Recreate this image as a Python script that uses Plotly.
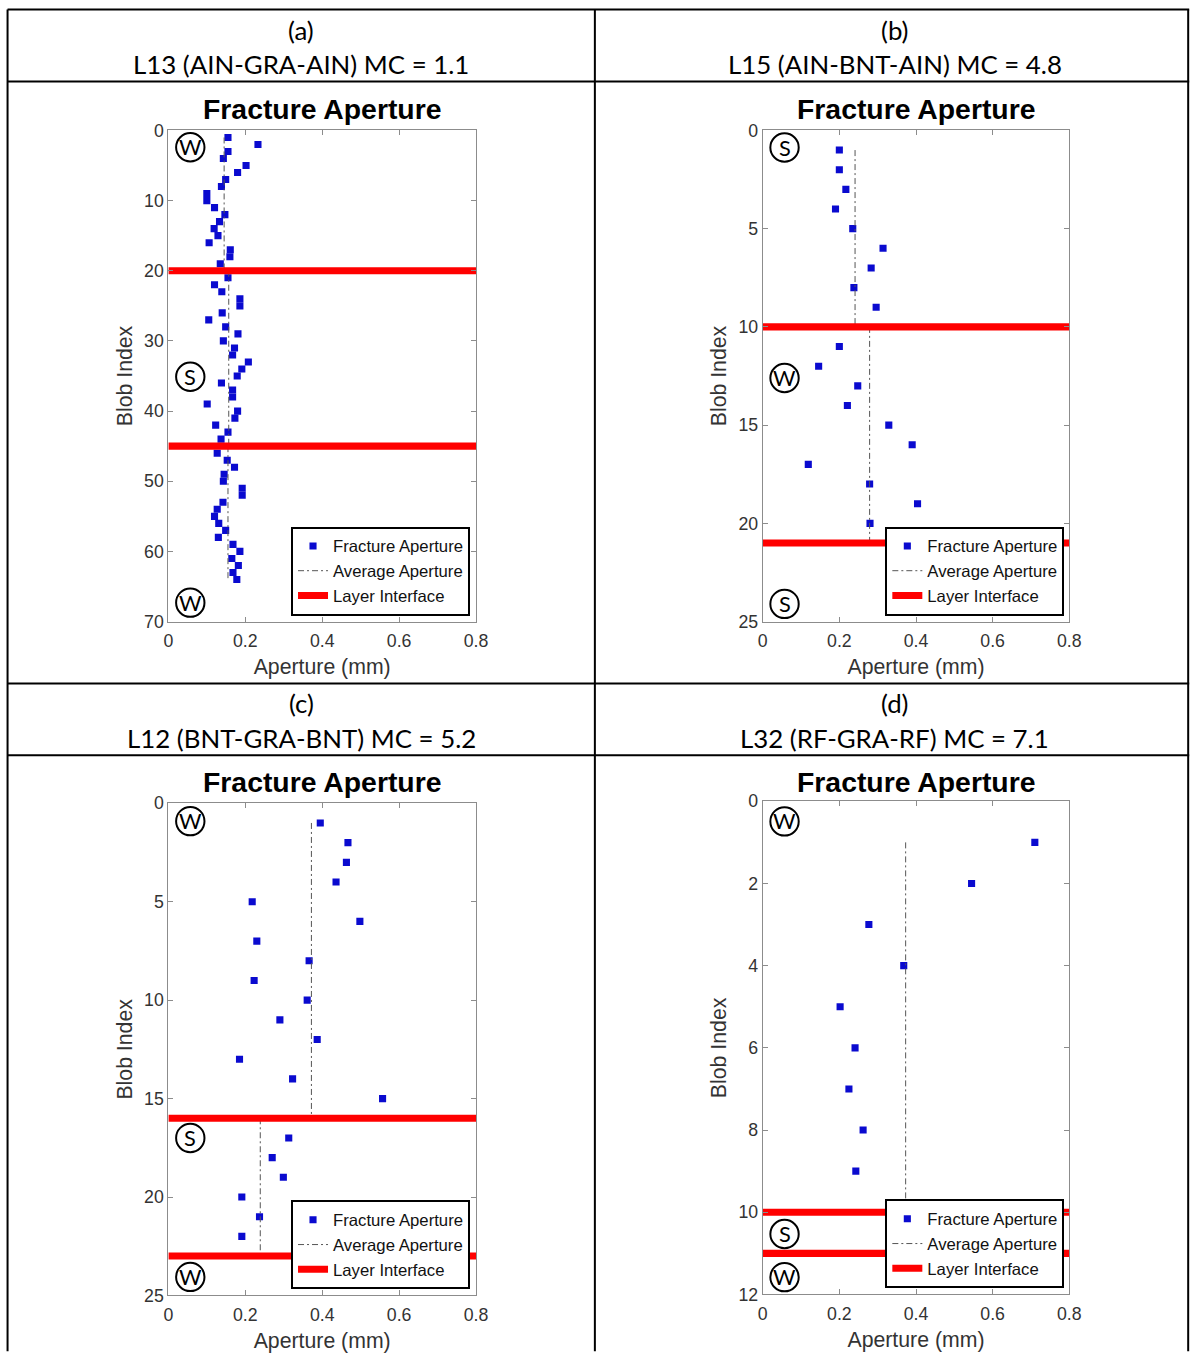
import plotly.graph_objects as go

# Geometry is specified in target-picture pixels and mapped onto the figure.
S = 0.987            # observed page -> picture scale
OX, OY = 4.5, 9.5    # observed page offsets
K = 1 / S
W, H = 1202, 1363

# ---------------- data ----------------
# Panel (a) L13 (AIN-GRA-AIN)
a_idx = [1, 2, 3, 4, 5, 6, 7, 8, 9, 10, 11, 12, 13, 14, 15, 16, 17, 18, 19,
         21, 22, 23, 24, 25, 26, 27, 28, 29, 30, 31, 32, 33, 34, 35, 36, 37, 38, 39, 40,
         41, 42, 43, 44, 46, 47, 48, 49, 50, 51, 52, 53, 54, 55, 56, 57, 58, 59, 60,
         61, 62, 63, 64]
a_ap = [0.155, 0.233, 0.155, 0.143, 0.202, 0.180, 0.149, 0.138, 0.100, 0.100,
        0.120, 0.147, 0.133, 0.119, 0.129, 0.106, 0.161, 0.160, 0.135,
        0.155, 0.120, 0.139, 0.186, 0.186, 0.140, 0.105, 0.149, 0.181, 0.143,
        0.172, 0.167, 0.208, 0.191, 0.179, 0.138, 0.167, 0.167, 0.101, 0.180,
        0.173, 0.123, 0.155, 0.137, 0.127, 0.153, 0.172, 0.145, 0.143, 0.192,
        0.192, 0.142, 0.127, 0.120, 0.131, 0.149, 0.130, 0.168, 0.186,
        0.165, 0.182, 0.168, 0.178]
a_avg = [0.145, 0.157, 0.155]
a_seg_start = [1, 20, 45]
a_seg_end = [20, 45, 64]
a_iface = [20, 45]

# Panel (b) L15 (AIN-BNT-AIN)
b_idx = [1, 2, 3, 4, 5, 6, 7, 8, 9, 11, 12, 13, 14, 15, 16, 17, 18, 19, 20]
b_ap = [0.200, 0.200, 0.217, 0.190, 0.235, 0.314, 0.283, 0.238, 0.296,
        0.200, 0.146, 0.248, 0.221, 0.329, 0.390, 0.119, 0.279, 0.404, 0.280]
b_avg = [0.241, 0.279]
b_seg_start = [1, 10]
b_seg_end = [10, 21]
b_iface = [10, 21]

# Panel (c) L12 (BNT-GRA-BNT)
c_idx = [1, 2, 3, 4, 5, 6, 7, 8, 9, 10, 11, 12, 13, 14, 15, 17, 18, 19, 20, 21, 22]
c_ap = [0.395, 0.467, 0.463, 0.436, 0.218, 0.498, 0.230, 0.366, 0.223, 0.361,
        0.290, 0.387, 0.185, 0.323, 0.557, 0.313, 0.270, 0.299, 0.191, 0.237, 0.191]
c_avg = [0.372, 0.239]
c_seg_start = [1, 16]
c_seg_end = [16, 23]
c_iface = [16, 23]

# Panel (d) L32 (RF-GRA-RF)
d_idx = [1, 2, 3, 4, 5, 6, 7, 8, 9]
d_ap = [0.710, 0.545, 0.277, 0.368, 0.202, 0.241, 0.225, 0.262, 0.243]
d_avg = [0.373]
d_seg_start = [1]
d_seg_end = [10]
d_iface = [10, 11]

x_ticks = [0, 0.2, 0.4, 0.6, 0.8]
x_ticktext = ["0", "0.2", "0.4", "0.6", "0.8"]

headers = [("(a)", "L13 (AIN-GRA-AIN) MC = 1.1"),
           ("(b)", "L15 (AIN-BNT-AIN) MC = 4.8"),
           ("(c)", "L12 (BNT-GRA-BNT) MC = 5.2"),
           ("(d)", "L32 (RF-GRA-RF) MC = 7.1")]

layer_labels = [
    [("W", 2.4), ("S", 35.1), ("W", 67.3)],
    [("S", 0.87), ("W", 12.6), ("S", 24.1)],
    [("W", 0.91), ("S", 17.0), ("W", 24.06)],
    [("W", 0.49), ("S", 10.53), ("W", 11.58)],
]

series = [
    (a_idx, a_ap, a_avg, a_seg_start, a_seg_end, a_iface),
    (b_idx, b_ap, b_avg, b_seg_start, b_seg_end, b_iface),
    (c_idx, c_ap, c_avg, c_seg_start, c_seg_end, c_iface),
    (d_idx, d_ap, d_avg, d_seg_start, d_seg_end, d_iface),
]
y_max = [70, 25, 25, 12]
y_dtick = [10, 5, 5, 2]

# ---------------- layout geometry (target pixels) ----------------
plot_px = [  # x0, x1, y0(top), y1(bottom)
    (168, 476, 130, 622),
    (763, 1070, 130, 622),
    (168, 476, 804, 1297),
    (763, 1070, 802, 1296),
]
legend_px = [  # right, bottom
    (470, 616), (1065, 616), (470, 1291), (1065, 1290)
]
header_px = [(301, 30, 64), (895, 30, 64), (301, 704, 739), (895, 704, 739)]


def px(x):
    return (x / S - OX) / W


def py(y):
    return 1 - (y / S - OY) / H


fig = go.Figure()
annotations = []
shapes = []

TICKFONT = dict(family="Liberation Sans, Arial", size=17.5 * K, color="#333333")
TITLEFONT = dict(family="Liberation Sans, Arial", size=21 * K, color="#333333")

for i, (idx, ap, avg, s0, s1, iface) in enumerate(series):
    n = "" if i == 0 else str(i + 1)
    xa, ya = "x" + n, "y" + n
    leg = "legend" + n

    fig.add_trace(go.Scatter(
        x=ap, y=idx, mode="markers", name="Fracture Aperture",
        marker=dict(symbol="square", size=7 * K, color="#0a0acf"),
        xaxis=xa, yaxis=ya, legend=leg))

    ax, ay = [], []
    for v, a0, a1 in zip(avg, s0, s1):
        ax += [v, v, None]
        ay += [a0, a1, None]
    fig.add_trace(go.Scatter(
        x=ax, y=ay, mode="lines", name="Average Aperture",
        line=dict(color="#555555", width=1, dash="6px,3px,2px,3px"),
        xaxis=xa, yaxis=ya, legend=leg))

    rx, ry = [], []
    for yi in iface:
        rx += [x_ticks[0], x_ticks[-1], None]
        ry += [yi, yi, None]
    fig.add_trace(go.Scatter(
        x=rx, y=ry, mode="lines", name="Layer Interface",
        line=dict(color="#ff0000", width=7 * K),
        xaxis=xa, yaxis=ya, legend=leg))

    x0, x1, y0, y1 = plot_px[i]
    axis_common = dict(showline=True, linecolor="#8c8c8c", linewidth=1,
                       mirror="ticks", ticks="inside", ticklen=5,
                       tickcolor="#8c8c8c", showgrid=False, zeroline=False,
                       tickfont=TICKFONT)
    fig.layout["xaxis" + n] = dict(
        domain=[px(x0), px(x1)], range=[0, 0.8], anchor=ya,
        tickvals=x_ticks, ticktext=x_ticktext, ticklabelstandoff=3,
        title=dict(text="Aperture (mm)", font=TITLEFONT, standoff=9),
        **axis_common)
    fig.layout["yaxis" + n] = dict(
        domain=[py(y1), py(y0)], range=[y_max[i], 0], anchor=xa,
        tickvals=list(range(0, y_max[i] + 1, y_dtick[i])),
        title=dict(text="Blob Index", font=TITLEFONT, standoff=5),
        **axis_common)

    lr, lb = legend_px[i]
    fig.layout[leg] = dict(
        x=px(lr), y=py(lb), xanchor="right", yanchor="bottom",
        xref="paper", yref="paper",
        bgcolor="white", bordercolor="black", borderwidth=2,
        font=dict(family="Liberation Sans, Arial", size=16.5 * K, color="#111111"),
        itemwidth=30, tracegroupgap=0, traceorder="normal")

    # panel title
    annotations.append(dict(
        text="<b>Fracture Aperture</b>", x=px((x0 + x1) / 2),
        y=py(109 if i < 2 else 783),
        xref="paper", yref="paper", showarrow=False,
        xanchor="center", yanchor="middle",
        font=dict(family="Liberation Sans, Arial", size=28 * K, color="black")))

    # layer letters in circles
    for letter, yv in layer_labels[i]:
        shapes.append(dict(
            type="circle", xref=xa, yref=ya, xsizemode="pixel", ysizemode="pixel",
            xanchor=0.057, yanchor=yv, x0=-14 * K, x1=14 * K, y0=-14 * K, y1=14 * K,
            line=dict(color="black", width=2)))
        annotations.append(dict(
            text=letter, x=0.057, y=yv, xref=xa, yref=ya, showarrow=False,
            xanchor="center", yanchor="middle",
            font=dict(family="Lato, Liberation Sans", size=21.5 * K, color="black")))

    # table headers
    hx, hy1, hy2 = header_px[i]
    for txt, hy in zip(headers[i], (hy1, hy2)):
        annotations.append(dict(
            text=txt, x=px(hx), y=py(hy), xref="paper", yref="paper",
            showarrow=False, xanchor="center", yanchor="middle",
            font=dict(family="Lato, Carlito, Liberation Sans", size=25.5 * K, color="black")))

# table grid lines
for yline in (9, 81, 684, 756):
    shapes.append(dict(type="line", xref="paper", yref="paper",
                       x0=px(7), x1=px(1190), y0=py(yline), y1=py(yline),
                       line=dict(color="black", width=2)))
for xline in (7, 595, 1189):
    shapes.append(dict(type="line", xref="paper", yref="paper",
                       x0=px(xline), x1=px(xline), y0=py(9), y1=py(1353),
                       line=dict(color="black", width=2)))

fig.update_layout(
    width=W, height=H, margin=dict(l=0, r=0, t=0, b=0),
    paper_bgcolor="white", plot_bgcolor="white",
    annotations=annotations, shapes=shapes, showlegend=True,
)

fig.write_html("out.html")
